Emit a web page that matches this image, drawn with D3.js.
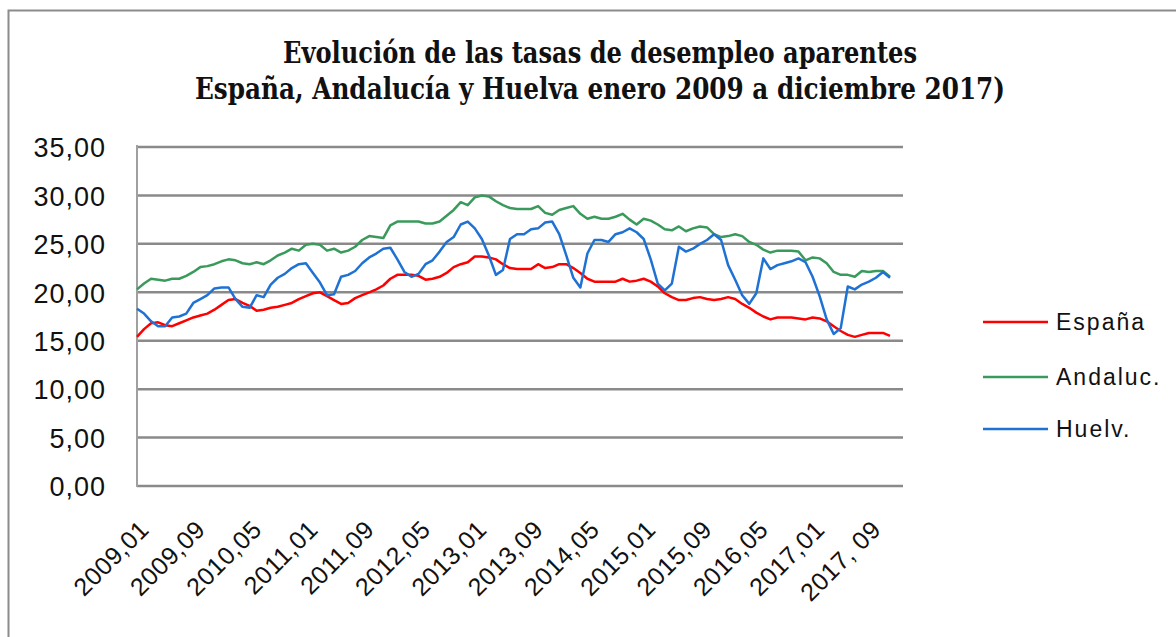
<!DOCTYPE html>
<html>
<head>
<meta charset="utf-8">
<script src="https://cdn.jsdelivr.net/npm/d3@7"></script>
<style>
  body { margin: 0; background: #fff; }
  svg { display: block; }
</style>
</head>
<body>
<div id="chart"></div>
<script>
// Monthly rates, enero 2009 .. diciembre 2017 (108 months)
var espana = [
  15.4, 16.2, 16.8, 16.9, 16.6, 16.5, 16.8, 17.1, 17.4, 17.6, 17.8, 18.2,
  18.7, 19.2, 19.3, 18.9, 18.6, 18.1, 18.2, 18.4, 18.5, 18.7, 18.9, 19.3,
  19.6, 19.9, 20.0, 19.6, 19.2, 18.8, 18.9, 19.4, 19.7, 20.0, 20.3, 20.7,
  21.4, 21.8, 21.8, 21.8, 21.7, 21.3, 21.4, 21.6, 22.0, 22.6, 22.9, 23.1,
  23.7, 23.7, 23.6, 23.4, 22.9, 22.5, 22.4, 22.4, 22.4, 22.9, 22.5, 22.6,
  22.9, 22.9, 22.5, 22.0, 21.4, 21.1, 21.1, 21.1, 21.1, 21.4, 21.1, 21.2,
  21.4, 21.1, 20.6, 19.9, 19.5, 19.2, 19.2, 19.4, 19.5, 19.3, 19.2, 19.3,
  19.5, 19.3, 18.8, 18.4, 17.9, 17.5, 17.2, 17.4, 17.4, 17.4, 17.3, 17.2,
  17.4, 17.3, 17.0, 16.5, 16.0, 15.6, 15.4, 15.6, 15.8, 15.8, 15.8, 15.5
];
var andalucia = [
  20.3, 20.9, 21.4, 21.3, 21.2, 21.4, 21.4, 21.7, 22.1, 22.6, 22.7, 22.9,
  23.2, 23.4, 23.3, 23.0, 22.9, 23.1, 22.9, 23.3, 23.8, 24.1, 24.5, 24.3,
  24.9, 25.0, 24.9, 24.3, 24.5, 24.1, 24.3, 24.7, 25.4, 25.8, 25.7, 25.6,
  26.9, 27.3, 27.3, 27.3, 27.3, 27.1, 27.1, 27.3, 27.9, 28.5, 29.3, 29.0,
  29.8, 30.0, 29.9, 29.4, 29.0, 28.7, 28.6, 28.6, 28.6, 28.9, 28.2, 28.0,
  28.5, 28.7, 28.9, 28.1, 27.6, 27.8, 27.6, 27.6, 27.8, 28.1, 27.5, 27.0,
  27.6, 27.4, 27.0, 26.5, 26.4, 26.8, 26.3, 26.6, 26.8, 26.7, 26.0, 25.7,
  25.8, 26.0, 25.8, 25.2, 24.9, 24.4, 24.1, 24.3, 24.3, 24.3, 24.2, 23.3,
  23.6, 23.5, 23.0, 22.1, 21.8, 21.8, 21.6, 22.2, 22.1, 22.2, 22.2, 21.6
];
var huelva = [
  18.3, 17.8, 17.0, 16.5, 16.5, 17.4, 17.5, 17.8, 18.9, 19.3, 19.7, 20.4,
  20.5, 20.5, 19.3, 18.5, 18.4, 19.7, 19.5, 20.8, 21.5, 21.9, 22.5, 22.9,
  23.0, 22.0, 21.0, 19.7, 19.8, 21.6, 21.8, 22.2, 23.0, 23.6, 24.0, 24.5,
  24.6, 23.4, 22.1, 21.6, 21.9, 22.9, 23.3, 24.2, 25.2, 25.7, 27.0, 27.3,
  26.6, 25.5, 23.8, 21.8, 22.3, 25.5, 26.0, 26.0, 26.5, 26.6, 27.2, 27.3,
  26.0, 23.8, 21.5, 20.5, 24.0, 25.4, 25.4, 25.2, 26.0, 26.2, 26.6, 26.2,
  25.5, 23.4, 20.9, 20.2, 20.9, 24.7, 24.2, 24.5, 25.0, 25.4, 26.0, 25.4,
  22.8, 21.3, 19.7, 18.8, 19.9, 23.5, 22.4, 22.8, 23.0, 23.2, 23.5, 23.1,
  21.6, 19.6, 17.2, 15.7, 16.3, 20.6, 20.3, 20.8, 21.1, 21.5, 22.1, 21.5
];

// tick labels shown every 8 months
var xTickLabels = ["2009,01", "2009,09", "2010,05", "2011,01", "2011,09", "2012,05",
  "2013,01", "2013,09", "2014,05", "2015,01", "2015,09", "2016,05", "2017,01", "2017, 09"];
var yTicks = [0, 5, 10, 15, 20, 25, 30, 35];

var seriesNames = ["España", "Andaluc.", "Huelv."];
var seriesColors = ["#ff0000", "#3a9a5b", "#1f72d4"];

var svgWidth = 1176;
var svgHeight = 637;

var plot = { left: 137, right: 903, top: 147, bottom: 486, lastX: 890 };

var svg = d3.select("#chart")
  .append("svg")
  .attr("width", svgWidth)
  .attr("height", svgHeight);

// outer frame (only top and left edges are visible)
svg.append("path")
  .attr("d", "M8.5," + svgHeight + "V10.5H" + svgWidth)
  .attr("fill", "none")
  .attr("stroke", "#8c8c8c")
  .attr("stroke-width", 2);

var x = d3.scaleLinear()
  .domain([0, espana.length - 1])
  .range([plot.left, plot.lastX]);

var y = d3.scaleLinear()
  .domain([0, 35])
  .range([plot.bottom, plot.top]);

// gridlines
svg.append("g")
  .selectAll("line")
  .data(yTicks)
  .enter()
  .append("line")
  .attr("x1", plot.left)
  .attr("x2", plot.right)
  .attr("y1", d => y(d))
  .attr("y2", d => y(d))
  .attr("stroke", "#8a8a8a")
  .attr("stroke-width", 2.5);

// plot area left edge
svg.append("line")
  .attr("x1", plot.left)
  .attr("x2", plot.left)
  .attr("y1", plot.top - 2)
  .attr("y2", plot.bottom + 1)
  .attr("stroke", "#a0a0a0")
  .attr("stroke-width", 2);

// y axis labels
var leftAxis = d3.axisLeft(y)
  .tickValues(yTicks)
  .tickSize(0)
  .tickPadding(0)
  .tickFormat(d => d3.format(".2f")(d).replace(".", ","));

var yAxisG = svg.append("g")
  .attr("transform", "translate(106,0)")
  .call(leftAxis);
yAxisG.select(".domain").remove();
yAxisG.selectAll("text")
  .attr("font-family", "'Liberation Sans', Arial, sans-serif")
  .attr("font-size", 27)
  .attr("letter-spacing", 1)
  .attr("fill", "#111")
  .attr("dy", "0.36em");

// x axis labels (rotated)
var xTickIdx = xTickLabels.map((d, i) => i * 8).filter(i => i < espana.length);
var bottomAxis = d3.axisBottom(x)
  .tickValues(xTickIdx)
  .tickSize(0)
  .tickFormat((d, i) => xTickLabels[i]);

var xAxisG = svg.append("g")
  .attr("transform", "translate(0," + plot.bottom + ")")
  .call(bottomAxis);
xAxisG.select(".domain").remove();
xAxisG.selectAll("text")
  .attr("font-family", "'Liberation Sans', Arial, sans-serif")
  .attr("font-size", 25)
  .attr("letter-spacing", 0.5)
  .attr("fill", "#111")
  .attr("text-anchor", "end")
  .attr("dy", 0)
  .attr("y", 0)
  .attr("transform", "translate(13,45) rotate(-45)");

// lines
var allSeries = [espana, andalucia, huelva];
var line = d3.line()
  .x((d, i) => x(i))
  .y(d => y(d));

// draw order: Andalucía, España, Huelva on top
[1, 0, 2].forEach(function (k) {
  svg.append("path")
    .datum(allSeries[k])
    .attr("d", line)
    .attr("fill", "none")
    .attr("stroke", seriesColors[k])
    .attr("stroke-width", 2.5)
    .attr("stroke-linejoin", "round");
});

// legend
var legendY = [322, 377, 429];
var legend = svg.append("g");
seriesNames.forEach(function (name, k) {
  legend.append("line")
    .attr("x1", 983)
    .attr("x2", 1048)
    .attr("y1", legendY[k])
    .attr("y2", legendY[k])
    .attr("stroke", seriesColors[k])
    .attr("stroke-width", 2.5);
  legend.append("text")
    .attr("x", 1056)
    .attr("y", legendY[k])
    .attr("dy", "0.36em")
    .attr("font-family", "'Liberation Sans', Arial, sans-serif")
    .attr("font-size", 23)
    .attr("letter-spacing", 2)
    .attr("fill", "#111")
    .text(name);
});

// title
var titleLines = [
  "Evolución de las tasas de desempleo aparentes",
  "España, Andalucía y Huelva enero 2009 a diciembre 2017)"
];
var titleWidths = [634, 810];
svg.append("g")
  .selectAll("text")
  .data(titleLines)
  .enter()
  .append("text")
  .attr("x", 600)
  .attr("y", (d, i) => 63 + i * 36)
  .attr("text-anchor", "middle")
  .attr("font-family", "'DejaVu Serif Condensed', 'DejaVu Serif', serif")
  .attr("font-weight", "bold")
  .attr("font-size", 29)
  .attr("textLength", (d, i) => titleWidths[i])
  .attr("lengthAdjust", "spacingAndGlyphs")
  .attr("fill", "#111")
  .text(d => d);
</script>
</body>
</html>
